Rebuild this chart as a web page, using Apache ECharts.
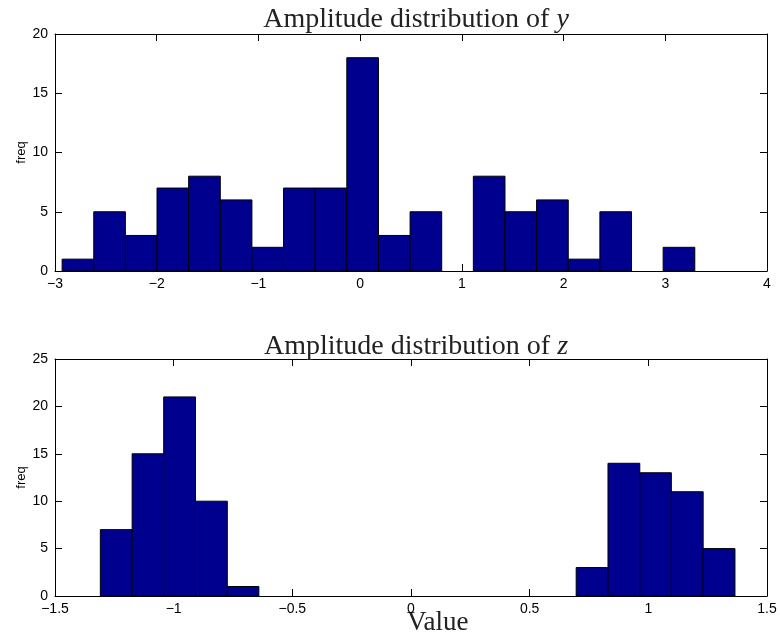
<!DOCTYPE html>
<html>
<head>
<meta charset="utf-8">
<script src="https://cdn.jsdelivr.net/npm/echarts@6/dist/echarts.min.js"></script>
<style>
  html, body { margin: 0; padding: 0; background: #fff; }
  #chart { width: 780px; height: 643px; }
</style>
</head>
<body>
<div id="chart"></div>
<script>
  // histogram of y: bin edges and counts
  var yEdges = [-2.930, -2.619, -2.308, -1.997, -1.686, -1.375, -1.064, -0.753, -0.442, -0.131,
                0.180, 0.491, 0.802, 1.113, 1.424, 1.735, 2.046, 2.357, 2.668, 2.979, 3.290];
  var yCounts = [1, 5, 3, 7, 8, 6, 2, 7, 7, 18, 3, 5, 0, 8, 5, 6, 1, 5, 0, 2];

  // histogram of z: bin edges and counts
  var zEdges = [-1.309, -1.175, -1.042, -0.908, -0.774, -0.641, -0.507, -0.373, -0.240, -0.106,
                0.028, 0.162, 0.295, 0.429, 0.563, 0.696, 0.830, 0.964, 1.097, 1.231, 1.365];
  var zCounts = [7, 15, 21, 10, 1, 0, 0, 0, 0, 0, 0, 0, 0, 0, 0, 3, 14, 13, 11, 5];

  var titles = ['Amplitude distribution of {i|y}', 'Amplitude distribution of {i|z}'];

  function bins(edges, counts) {
    var out = [];
    for (var i = 0; i < counts.length; i++) out.push([edges[i], edges[i + 1], counts[i]]);
    return out;
  }

  function renderBar(params, api) {
    var n = api.value(2);
    if (!n) return null;
    var p0 = api.coord([api.value(0), n]);
    var p1 = api.coord([api.value(1), 0]);
    return {
      type: 'rect',
      shape: { x: p0[0], y: p0[1], width: p1[0] - p0[0], height: p1[1] - p0[1] },
      style: { fill: '#00008F', stroke: '#000', lineWidth: 1 }
    };
  }

  var minus = function (v) { return String(v).replace('-', '\u2212'); };
  var tickFont = { color: '#000', fontFamily: 'Liberation Sans', fontSize: 14 };
  var line = { show: true, onZero: false, lineStyle: { color: '#000', width: 1 } };
  var tick = { show: true, inside: true, length: 7, lineStyle: { color: '#000' } };

  function xAxes(idx, min, max, step) {
    return [
      { type: 'value', gridIndex: idx, min: min, max: max, interval: step, position: 'bottom',
        axisLine: line, axisTick: tick, splitLine: { show: false },
        axisLabel: Object.assign({ margin: 6, formatter: minus }, tickFont) },
      { type: 'value', gridIndex: idx, min: min, max: max, interval: step, position: 'top',
        axisLine: line, axisTick: tick, splitLine: { show: false }, axisLabel: { show: false } }
    ];
  }
  function yAxes(idx, max) {
    return [
      { type: 'value', gridIndex: idx, min: 0, max: max, interval: 5, position: 'left',
        name: 'freq', nameLocation: 'middle', nameGap: 27, nameRotate: 90, nameMoveOverlap: false,
        nameTextStyle: { color: '#000', fontFamily: 'Liberation Sans', fontSize: 13 },
        axisLine: line, axisTick: tick, splitLine: { show: false },
        axisLabel: Object.assign({ margin: 7 }, tickFont) },
      { type: 'value', gridIndex: idx, min: 0, max: max, interval: 5, position: 'right',
        axisLine: line, axisTick: tick, splitLine: { show: false }, axisLabel: { show: false } }
    ];
  }

  var titleStyle = {
    color: '#222', fontFamily: 'Liberation Serif', fontSize: 28, fontWeight: 'normal',
    rich: { i: { fontFamily: 'Liberation Serif', fontStyle: 'italic', fontSize: 28, color: '#222' } }
  };

  var chart = echarts.init(document.getElementById('chart'));
  chart.setOption({
    backgroundColor: '#fff',
    animation: false,
    title: [
      { text: titles[0], left: 411, top: 1, textAlign: 'center', textStyle: titleStyle },
      { text: titles[1], left: 411, top: 328, textAlign: 'center', textStyle: titleStyle }
    ],
    graphic: [
      { type: 'text', left: 407, top: 609,
        style: { text: 'Value', fill: '#222', font: '27px "Liberation Serif"' } }
    ],
    grid: [
      { left: 55, right: 13, top: 34, height: 237 },
      { left: 55, right: 13, top: 359, height: 237 }
    ],
    xAxis: xAxes(0, -3, 4, 1).concat(xAxes(1, -1.5, 1.5, 0.5)),
    yAxis: yAxes(0, 20).concat(yAxes(1, 25)),
    series: [
      { type: 'custom', xAxisIndex: 0, yAxisIndex: 0, renderItem: renderBar,
        encode: { x: [0, 1], y: 2 }, data: bins(yEdges, yCounts) },
      { type: 'custom', xAxisIndex: 2, yAxisIndex: 2, renderItem: renderBar,
        encode: { x: [0, 1], y: 2 }, data: bins(zEdges, zCounts) }
    ]
  });
</script>
</body>
</html>
